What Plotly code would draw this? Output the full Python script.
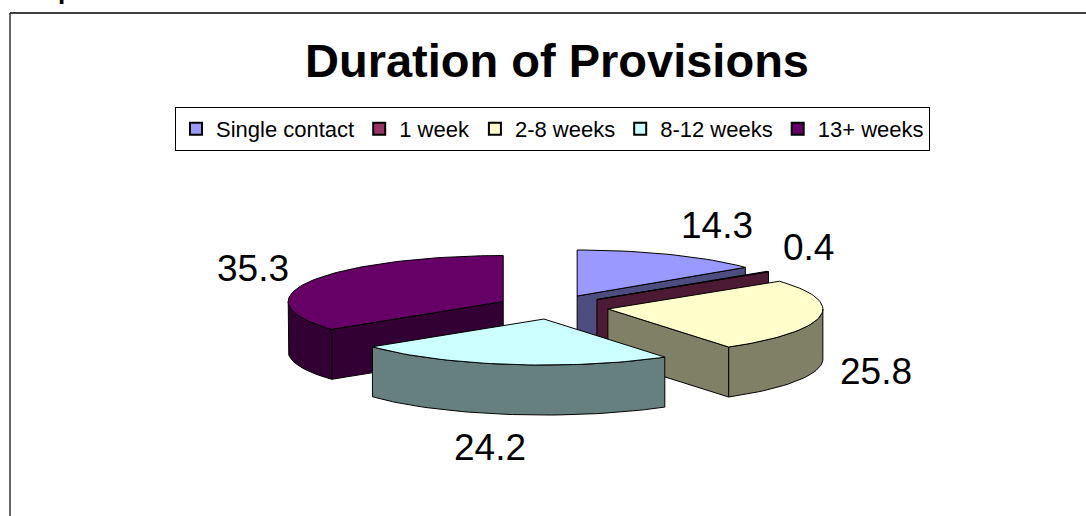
import math
import plotly.graph_objects as go

categories = ["Single contact", "1 week", "2-8 weeks", "8-12 weeks", "13+ weeks"]
values = [14.3, 0.4, 25.8, 24.2, 35.3]

top_colors = ["#9999FF", "#993366", "#FFFFCC", "#CCFFFF", "#660066"]
side_colors = ["#4D4D80", "#4D1A33", "#808066", "#668080", "#330033"]

# Pie geometry (pixels, because the axes map 1:1 onto the page)
CX, CY = 553, 307
RX, RY = 215, 46
DEPTH = 50
PULL_X, PULL_Y = 55.6, 12.2
DRAW_ORDER = [0, 1, 4, 2, 3]
LABEL_POS = [(717, 225), (808, 247), (876, 371), (490, 447), (253, 268)]
STEPS_PER_DEG = 0.5

W, H = 1086, 516


def arc(ax, ay, a0, a1):
    n = max(2, int(abs(a1 - a0) * STEPS_PER_DEG))
    pts = []
    for i in range(n + 1):
        a = math.radians(a0 + (a1 - a0) * i / n)
        pts.append((ax + RX * math.sin(a), ay - RY * math.cos(a)))
    return pts


def poly(pts, fill, name=None):
    xs = [p[0] for p in pts] + [pts[0][0]]
    ys = [p[1] for p in pts] + [pts[0][1]]
    return go.Scatter(x=xs, y=ys, mode="lines", fill="toself", fillcolor=fill,
                      line=dict(color="black", width=1), showlegend=False,
                      hoverinfo="text", text=name)


total = sum(values)
angles = [0]
for v in values:
    angles.append(angles[-1] + v / total * 360)

fig = go.Figure()

for i in DRAW_ORDER:
    a0, a1 = angles[i], angles[i + 1]
    mid = math.radians((a0 + a1) / 2)
    ax = CX + PULL_X * math.sin(mid)
    ay = CY - PULL_Y * math.cos(mid)
    name = f"{categories[i]}: {values[i]}"
    down = lambda pts: [(x, y + DEPTH) for x, y in pts]
    # radial walls facing the viewer
    if a0 > 180:
        e = arc(ax, ay, a0, a0)[0]
        fig.add_trace(poly([(ax, ay), e, (e[0], e[1] + DEPTH), (ax, ay + DEPTH)], side_colors[i], name))
    if 0 < a1 < 180:
        e = arc(ax, ay, a1, a1)[0]
        fig.add_trace(poly([(ax, ay), e, (e[0], e[1] + DEPTH), (ax, ay + DEPTH)], side_colors[i], name))
    # outer wall, front half only
    f0, f1 = max(a0, 90), min(a1, 270)
    if f1 > f0:
        rim = arc(ax, ay, f0, f1)
        fig.add_trace(poly(rim + down(rim)[::-1], side_colors[i], name))
    # top face
    fig.add_trace(poly([(ax, ay)] + arc(ax, ay, a0, a1), top_colors[i], name))

# legend entries
for c, col in zip(categories, top_colors):
    fig.add_trace(go.Scatter(x=[None], y=[None], mode="markers", name=c,
                             marker=dict(symbol="square", size=13, color=col,
                                         line=dict(color="black", width=1))))

annotations = [
    dict(x=x, y=y, text=str(v), showarrow=False, xanchor="center", yanchor="middle",
         font=dict(size=37, color="black"))
    for v, (x, y) in zip(values, LABEL_POS)
]
annotations.append(dict(x=557, y=60, text="<b>Duration of Provisions</b>", showarrow=False,
                        xanchor="center", yanchor="middle", font=dict(size=47, color="black")))
annotations.append(dict(xref="paper", yref="paper", x=56 / W, y=1 + 10 / H, text="<b>p</b>",
                        showarrow=False, xanchor="left", yanchor="middle",
                        font=dict(size=26, color="black")))

fig.update_layout(
    width=W, height=H,
    margin=dict(l=0, r=0, t=0, b=0),
    paper_bgcolor="white", plot_bgcolor="white",
    font=dict(family="Liberation Sans, Arial, sans-serif", color="black"),
    xaxis=dict(range=[0, W], visible=False, fixedrange=True),
    yaxis=dict(range=[H, 0], visible=False, fixedrange=True),
    showlegend=True,
    legend=dict(orientation="h", x=175 / W, y=1 - 107 / H, xanchor="left", yanchor="top",
                bgcolor="white", bordercolor="black", borderwidth=1,
                font=dict(size=22, color="black"), itemsizing="constant",
                tracegroupgap=0, traceorder="normal"),
    annotations=annotations,
    shapes=[
        dict(type="line", xref="x", yref="y", x0=10, y0=13, x1=W + 5, y1=13, line=dict(color="black", width=1.5)),
        dict(type="line", xref="x", yref="y", x0=10, y0=13, x1=10, y1=H + 5, line=dict(color="#333333", width=1.5)),
    ],
)
fig.write_html("out.html", post_script="document.body.style.margin='0';",
               config=dict(displayModeBar=False))
